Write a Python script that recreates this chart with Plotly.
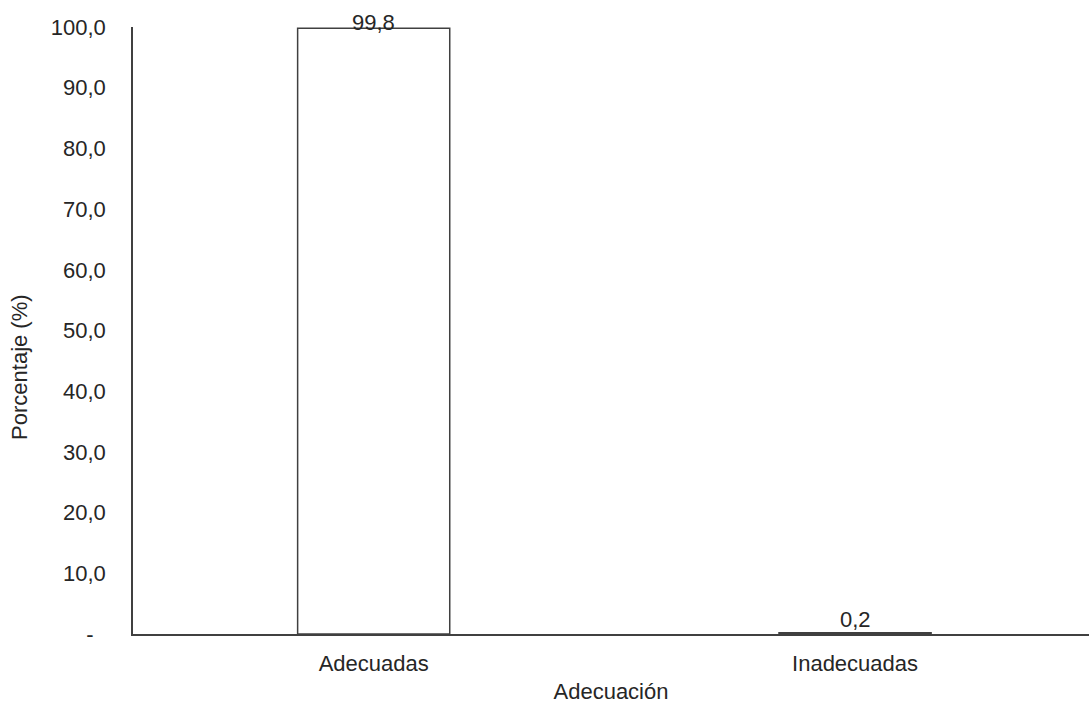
import plotly.graph_objects as go

# Distribución de muestras según su adecuación
categorias = ["Adecuadas", "Inadecuadas"]
porcentajes = [99.8, 0.2]

eje_y_valores = [0, 10, 20, 30, 40, 50, 60, 70, 80, 90, 100]
eje_y_textos = ["-\u00a0\u00a0", "10,0", "20,0", "30,0", "40,0", "50,0", "60,0", "70,0", "80,0", "90,0", "100,0"]

gris = "#404040"
texto = "#262626"
fuente = "Liberation Sans, Arial, sans-serif"
tam = 22

fig = go.Figure(
    go.Bar(
        x=categorias,
        y=porcentajes,
        marker=dict(color="white", line=dict(color=gris, width=1.5)),
        cliponaxis=False,
        width=0.316,
    )
)

# etiquetas de valor sobre cada barra (coma decimal)
desplazamientos = [6, 13]
for cat, val, dy in zip(categorias, porcentajes, desplazamientos):
    fig.add_annotation(
        x=cat,
        y=val,
        text=f"{val:.1f}".replace(".", ","),
        showarrow=False,
        yanchor="middle",
        yshift=dy,
        font=dict(family=fuente, size=tam, color=texto),
    )

# título del eje vertical
fig.add_annotation(
    xref="paper",
    yref="paper",
    x=0,
    y=0.44,
    xshift=-113,
    text="Porcentaje (%)",
    textangle=-90,
    showarrow=False,
    xanchor="center",
    yanchor="middle",
    font=dict(family=fuente, size=tam, color=texto),
)

fig.update_layout(
    width=1089,
    height=706,
    margin=dict(l=133, r=0, t=27, b=72),
    paper_bgcolor="white",
    plot_bgcolor="white",
    showlegend=False,
    font=dict(family=fuente, size=tam, color=texto),
)

fig.update_xaxes(
    range=[-0.5, 1.486],
    showline=True,
    linecolor=gris,
    linewidth=1.5,
    showgrid=False,
    ticks="",
    ticklabelstandoff=9,
    title=dict(text="Adecuación", standoff=8, font=dict(size=tam, color=texto)),
    tickfont=dict(size=tam, color=texto),
)

fig.update_yaxes(
    range=[0, 100],
    showline=True,
    linecolor=gris,
    linewidth=1.5,
    showgrid=False,
    zeroline=False,
    ticks="",
    tickvals=eje_y_valores,
    ticktext=eje_y_textos,
    ticklabelstandoff=21,
    tickfont=dict(size=tam, color=texto),
)

fig.write_html("out.html")
